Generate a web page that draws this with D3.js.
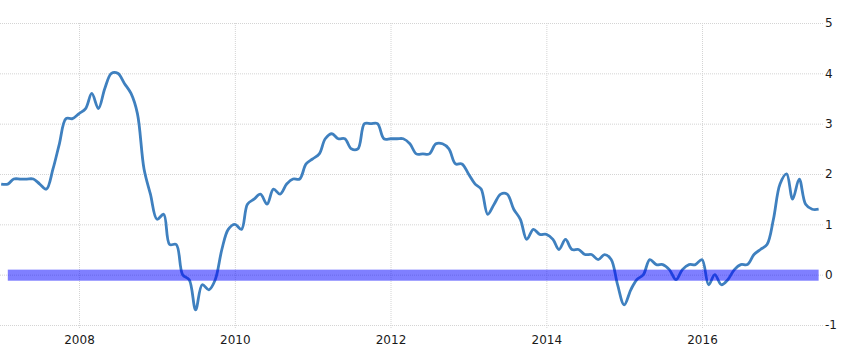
<!DOCTYPE html>
<html>
<head>
<meta charset="utf-8">
<script src="https://cdn.jsdelivr.net/npm/d3@7"></script>
<style>
  body { margin: 0; background: #fff; }
  .grid line { stroke: #d4d4d4; stroke-dasharray: 1,1; }
  .grid path { display: none; }
  .axis text { font-family: "DejaVu Sans", sans-serif; font-size: 12px; fill: #1a1a1a; }
  .axis path, .axis line { display: none; }
</style>
</head>
<body>
<div id="chart"></div>
<script>
// monthly annual inflation rate, starting Jan 2007
var startMonth = new Date(2007, 0, 1);
var values = [
  1.8, 1.8, 1.9, 1.9, 1.9, 1.9, 1.8, 1.7, 2.1, 2.6, 3.1, 3.1,   // 2007
  3.2, 3.3, 3.6, 3.3, 3.7, 4.0, 4.0, 3.8, 3.6, 3.2, 2.1, 1.6,   // 2008
  1.1, 1.2, 0.6, 0.6, 0.0, -0.1, -0.7, -0.2, -0.3, -0.1, 0.5, 0.9, // 2009
  1.0, 0.9, 1.4, 1.5, 1.6, 1.4, 1.7, 1.6, 1.8, 1.9, 1.9, 2.2,   // 2010
  2.3, 2.4, 2.7, 2.8, 2.7, 2.7, 2.5, 2.5, 3.0, 3.0, 3.0, 2.7,   // 2011
  2.7, 2.7, 2.7, 2.6, 2.4, 2.4, 2.4, 2.6, 2.6, 2.5, 2.2, 2.2,   // 2012
  2.0, 1.8, 1.7, 1.2, 1.4, 1.6, 1.6, 1.3, 1.1, 0.7, 0.9, 0.8,   // 2013
  0.8, 0.7, 0.5, 0.7, 0.5, 0.5, 0.4, 0.4, 0.3, 0.4, 0.3, -0.2,  // 2014
  -0.6, -0.3, -0.1, 0.0, 0.3, 0.2, 0.2, 0.1, -0.1, 0.1, 0.2, 0.2, // 2015
  0.3, -0.2, 0.0, -0.2, -0.1, 0.1, 0.2, 0.2, 0.4, 0.5, 0.6, 1.1, // 2016
  1.8, 2.0, 1.5, 1.9, 1.4, 1.3, 1.3                              // 2017
];
var xTickYears = [2008, 2010, 2012, 2014, 2016];
var yTicks = [-1, 0, 1, 2, 3, 4, 5];
var bandValues = [-0.12, 0.1];
var bandMonths = [new Date(2007, 1, 1), new Date(2017, 6, 1)];

var data = values.map(function(v, i) {
  return { date: d3.timeMonth.offset(startMonth, i), value: v };
});

var width = 854, height = 359;

var svg = d3.select("#chart").append("svg")
  .attr("width", width)
  .attr("height", height);

var x = d3.scaleTime()
  .domain([new Date(2008, 0, 1), new Date(2016, 0, 1)])
  .range([79, 702]);

var y = d3.scaleLinear()
  .domain([-1, 5])
  .range([325, 23]);

var gridRight = 823;

// horizontal grid
svg.append("g")
  .attr("class", "grid")
  .attr("transform", "translate(" + gridRight + ",0)")
  .call(d3.axisLeft(y).tickValues(yTicks).tickSize(gridRight).tickFormat(""));

// vertical grid
svg.append("g")
  .attr("class", "grid")
  .attr("transform", "translate(0,328)")
  .call(d3.axisTop(x)
    .tickValues(xTickYears.map(function(d) { return new Date(d, 0, 1); }))
    .tickSize(328 - 23)
    .tickFormat(""));

// line
var line = d3.line()
  .curve(d3.curveCatmullRom.alpha(0.5))
  .x(function(d) { return x(d.date); })
  .y(function(d) { return y(d.value); });

svg.append("path")
  .datum(data)
  .attr("fill", "none")
  .attr("stroke", "#3f80bf")
  .attr("stroke-width", 2.8)
  .attr("stroke-linejoin", "round")
  .attr("d", line);

// zero band
svg.append("rect")
  .attr("x", x(bandMonths[0]))
  .attr("width", x(bandMonths[1]) - x(bandMonths[0]))
  .attr("y", y(bandValues[1]))
  .attr("height", y(bandValues[0]) - y(bandValues[1]))
  .attr("fill", "rgba(0,0,255,0.5)");

// y labels on the right
svg.append("g")
  .attr("class", "axis")
  .attr("transform", "translate(820,0)")
  .call(d3.axisRight(y).tickValues(yTicks).tickSize(0).tickPadding(5)
    .tickFormat(function(d) { return String(d); }));

// x labels
svg.append("g")
  .attr("class", "axis")
  .attr("transform", "translate(0,330)")
  .call(d3.axisBottom(x)
    .tickValues(xTickYears.map(function(d) { return new Date(d, 0, 1); }))
    .tickSize(0)
    .tickPadding(5)
    .tickFormat(d3.timeFormat("%Y")));
</script>
</body>
</html>
